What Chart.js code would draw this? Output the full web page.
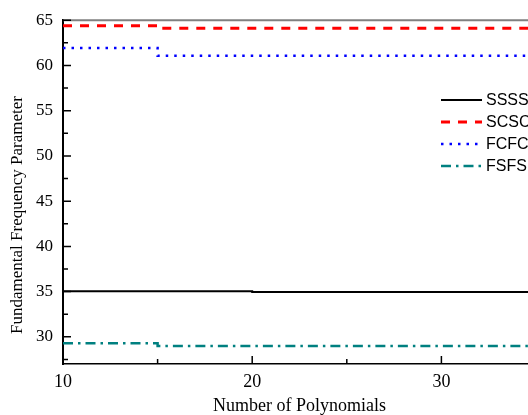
<!DOCTYPE html>
<html>
<head>
<meta charset="utf-8">
<script src="https://cdn.jsdelivr.net/npm/chart.js@4/dist/chart.umd.min.js"></script>
<style>
html,body{margin:0;padding:0;background:#fff;overflow:hidden;width:528px;height:415px;}
#wrap{width:545px;height:415px;position:relative;}
</style>
</head>
<body>
<div id="wrap"><canvas id="c" width="545" height="415"></canvas></div>
<script>
// ---- data ----
const polynomials = [10, 15, 20, 25, 30, 35];
const seriesNames = ['SSSS', 'SCSC', 'FCFC', 'FSFS'];
const ssss = [35.05, 35.05, 34.97, 34.97, 34.97, 34.97];
const scsc = [64.40, 64.10, 64.10, 64.10, 64.10, 64.10];
const fcfc = [61.93, 61.07, 61.07, 61.07, 61.07, 61.07];
const fsfs = [29.28, 28.99, 28.99, 28.99, 28.99, 28.99];
const yTicks = [30, 35, 40, 45, 50, 55, 60, 65];
const yMinor = [27.5, 32.5, 37.5, 42.5, 47.5, 52.5, 57.5, 62.5];
const xTicks = [10, 20, 30];
const xMinor = [15, 25, 35];
const xTitle = 'Number of Polynomials';
const yTitle = 'Fundamental Frequency Parameter';

const pts = arr => polynomials.map((x, i) => ({x: x, y: arr[i]}));

const styles = [
  {color: '#000000', dash: [], width: 2},
  {color: '#ff0000', dash: [9, 8], width: 3},
  {color: '#0000ff', dash: [2.5, 6], width: 2.5},
  {color: '#008080', dash: [10, 5, 2.5, 5], width: 2.5}
];
const values = [ssss, scsc, fcfc, fsfs];

const datasets = values.map((v, i) => ({
  label: seriesNames[i],
  data: pts(v),
  borderColor: styles[i].color,
  borderDash: styles[i].dash,
  borderWidth: styles[i].width,
  pointRadius: 0,
  fill: false,
  stepped: 'before',
  borderCapStyle: 'butt'
}));

const serif = "'Liberation Serif','Times New Roman',serif";
const sans = "'Liberation Sans',Arial,sans-serif";

const decor = {
  id: 'decor',
  afterDatasetsDraw(chart) {
    const ctx = chart.ctx;
    const a = chart.chartArea;
    const xs = chart.scales.x, ys = chart.scales.y;
    ctx.save();
    // top / right frame
    ctx.strokeStyle = '#808080';
    ctx.lineWidth = 2;
    ctx.beginPath();
    ctx.moveTo(a.left, a.top); ctx.lineTo(a.right, a.top); ctx.lineTo(a.right, a.bottom);
    ctx.stroke();
    // inward ticks
    ctx.strokeStyle = '#000';
    ctx.lineWidth = 1.5;
    ctx.beginPath();
    yTicks.forEach(v => { const p = ys.getPixelForValue(v); ctx.moveTo(a.left, p); ctx.lineTo(a.left + 8, p); });
    yMinor.forEach(v => { const p = ys.getPixelForValue(v); ctx.moveTo(a.left, p); ctx.lineTo(a.left + 5, p); });
    xTicks.forEach(v => { const p = xs.getPixelForValue(v); ctx.moveTo(p, a.bottom); ctx.lineTo(p, a.bottom - 8); });
    xMinor.forEach(v => { const p = xs.getPixelForValue(v); ctx.moveTo(p, a.bottom); ctx.lineTo(p, a.bottom - 5); });
    ctx.stroke();
    // legend
    const rows = [100, 122, 144, 166];
    chart.data.datasets.forEach((d, i) => {
      const y = rows[i];
      ctx.strokeStyle = d.borderColor;
      ctx.lineWidth = d.borderWidth;
      ctx.setLineDash(d.borderDash);
      ctx.beginPath(); ctx.moveTo(441, y); ctx.lineTo(482, y); ctx.stroke();
      ctx.setLineDash([]);
      ctx.fillStyle = '#000';
      ctx.font = '16px ' + sans;
      ctx.textBaseline = 'middle';
      ctx.textAlign = 'left';
      ctx.fillText(d.label, 486, y + 0.5);
    });
    // y title
    ctx.save();
    ctx.translate(18, 215);
    ctx.rotate(-Math.PI / 2);
    ctx.font = '17px ' + serif;
    ctx.fillStyle = '#000';
    ctx.textAlign = 'center';
    ctx.textBaseline = 'middle';
    ctx.fillText(yTitle, 0, 0);
    ctx.restore();
    ctx.restore();
  }
};

new Chart(document.getElementById('c'), {
  type: 'line',
  data: {datasets: datasets},
  options: {
    responsive: false,
    devicePixelRatio: 1,
    animation: false,
    events: [],
    layout: {padding: {left: 0, top: 14, right: 9, bottom: 0}},
    plugins: {legend: {display: false}, tooltip: {enabled: false}},
    scales: {
      x: {
        type: 'linear', min: 10, max: 35,
        afterBuildTicks: s => { s.ticks = xTicks.map(v => ({value: v})); },
        afterFit: s => { s.height = 51; },
        grid: {display: false, drawTicks: false},
        border: {display: true, color: '#000', width: 1.5},
        ticks: {color: '#000', padding: 7, maxRotation: 0, font: {family: serif, size: 18}},
        title: {display: true, text: xTitle, color: '#000', padding: 0, font: {family: serif, size: 18, lineHeight: 1}}
      },
      y: {
        type: 'linear', min: 27, max: 65,
        afterBuildTicks: s => { s.ticks = yTicks.map(v => ({value: v})); },
        afterFit: s => { s.width = 63; },
        grid: {display: false, drawTicks: false},
        border: {display: true, color: '#000', width: 2},
        ticks: {color: '#000', padding: 10, font: {family: serif, size: 17}}
      }
    }
  },
  plugins: [decor]
});
</script>
</body>
</html>
